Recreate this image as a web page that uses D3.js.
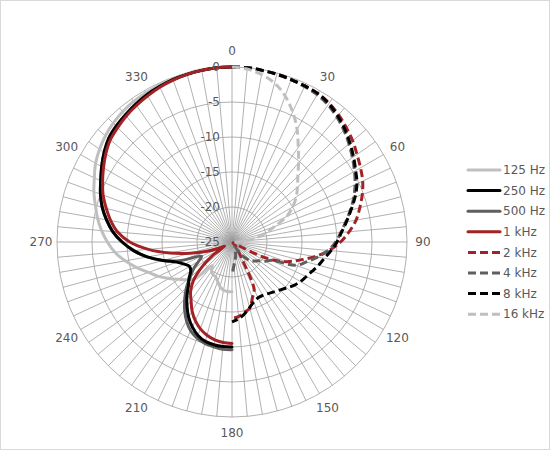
<!DOCTYPE html>
<html>
<head>
<meta charset="utf-8">
<script src="https://cdn.jsdelivr.net/npm/d3@7"></script>
<style>
  html,body{margin:0;padding:0;background:#fff;}
  text{font-family:"DejaVu Sans",sans-serif;}
</style>
</head>
<body>
<svg id="chart" width="550" height="450"></svg>
<script>
// ---------- DATA ----------
// angle categories (degrees, clockwise from top)
const rightAngles = [0,5,10,15,20,25,30,35,40,45,50,55,60,65,70,75,80,85,90,95,100,105,110,115,120,125,130,135,140,145,150,155,160,165,170,175,180];
const leftAngles  = [360,355,350,345,340,335,330,325,320,315,310,305,300,295,290,285,280,275,270,265,260,255,250,245,240,235,230,225,220,215,210,205,200,195,190,185,180];

const radialTicks = [-25,-20,-15,-10,-5,0];
const angleLabels = [0,30,60,90,120,150,180,210,240,270,300,330];

const seriesNames = ["125 Hz","250 Hz","500 Hz","1 kHz","2 kHz","4 kHz","8 kHz","16 kHz"];

// solid series: values along leftAngles (dB)
const hz125 = [0,0,0,-0.1,-0.2,-0.3,-0.4,-0.5,-0.7,-1.0,-1.4,-1.9,-2.5,-3.3,-4.0,-4.8,-5.5,-6.3,-7.2,-8.2,-9.5,-10.9,-12.3,-13.4,-14.6,-15.7,-16.6,-17.6,-20.6,-19.9,-19.6,-19.5,-19.0,-18.4,-18.0,-17.9,-17.9];
const hz250 = [0,0,-0.1,-0.2,-0.3,-0.5,-0.7,-1.0,-1.3,-1.6,-2.0,-2.7,-3.5,-4.3,-5.0,-5.8,-6.8,-7.9,-9.3,-10.9,-12.7,-14.8,-16.6,-17.5,-18.0,-17.8,-17.0,-16.2,-15.0,-13.8,-12.6,-11.6,-10.8,-10.3,-10.1,-10.0,-10.0];
const hz500 = [0,0,-0.1,-0.2,-0.3,-0.5,-0.7,-1.0,-1.3,-1.6,-2.0,-2.7,-3.5,-4.3,-5.0,-5.8,-6.8,-7.9,-9.3,-10.9,-12.7,-14.8,-17.3,-20.2,-19.5,-18.3,-17.2,-15.8,-14.5,-13.2,-12.0,-11.0,-10.4,-10.0,-9.8,-9.6,-9.6];
const khz1  = [0,0,-0.1,-0.2,-0.4,-0.6,-0.9,-1.2,-1.5,-1.9,-2.3,-3.0,-3.8,-4.6,-5.4,-6.4,-7.4,-8.6,-10.4,-13.0,-16.0,-18.8,-21.0,-22.8,-23.8,-21.5,-19.3,-17.2,-15.8,-14.8,-13.6,-12.6,-11.8,-11.2,-10.8,-10.6,-10.5];

// dashed series: values along rightAngles (dB)
const khz2  = [0,0,-0.1,-0.2,-0.3,-0.4,-0.5,-0.8,-1.3,-1.9,-2.5,-3.2,-3.8,-4.4,-5.2,-6.1,-7.0,-8.2,-9.5,-11.1,-13.0,-15.0,-16.8,-19.5,-24.3,-24.8,-24.8,-24.5,-24.0,-23.5,-22.0,-17.5,-16.5,-15.2,-14.8,-14.3,-14.1];
const khz4  = [0,0,-0.1,-0.2,-0.3,-0.5,-0.7,-1.1,-1.7,-2.4,-3.2,-4.0,-4.8,-5.6,-6.5,-7.5,-8.5,-9.4,-10.2,-11.2,-12.6,-14.0,-15.3,-18.8,-19.5,-20.3,-20.8,-21.2,-22.0,-23.2,-24.2,-24.0,-23.6,-23.0,-22.4,-21.7,-20.3];
const khz8  = [0,0,-0.1,-0.2,-0.3,-0.4,-0.5,-0.9,-1.5,-2.2,-3.0,-3.8,-4.6,-5.3,-6.3,-7.4,-8.4,-9.3,-10.0,-10.8,-11.6,-12.2,-12.8,-13.3,-13.7,-14.2,-14.8,-15.3,-15.7,-16.0,-16.2,-16.2,-15.9,-15.3,-14.6,-14.0,-13.6];
const khz16 = [0,-0.2,-0.7,-1.5,-2.8,-4.5,-6.4,-8.5,-10.2,-11.7,-12.8,-13.8,-15.0,-16.4,-18.5,-20.0,-21.5,-22.8,-24.0,-24.6,-24.8,-24.9,-24.9,-24.9,-24.9,-24.9,-24.9,-24.9,-24.9,-24.9,-24.9,-24.9,-24.9,-24.9,-24.9,-24.9,-24.9];

// ---------- STYLE ----------
const styles = {
  "125 Hz": {color:"#bfbfbf", dash:null},
  "250 Hz": {color:"#000000", dash:null},
  "500 Hz": {color:"#5f5f5f", dash:null},
  "1 kHz":  {color:"#a32226", dash:null},
  "2 kHz":  {color:"#a32226", dash:"8,4"},
  "4 kHz":  {color:"#5f5f5f", dash:"8,4"},
  "8 kHz":  {color:"#000000", dash:"8,4"},
  "16 kHz": {color:"#bfbfbf", dash:"8,4"}
};

const series = [
  {name:"125 Hz", angles:leftAngles,  values:hz125},
  {name:"250 Hz", angles:leftAngles,  values:hz250},
  {name:"500 Hz", angles:leftAngles,  values:hz500},
  {name:"1 kHz",  angles:leftAngles,  values:khz1},
  {name:"2 kHz",  angles:rightAngles, values:khz2},
  {name:"4 kHz",  angles:rightAngles, values:khz4},
  {name:"8 kHz",  angles:rightAngles, values:khz8},
  {name:"16 kHz", angles:rightAngles, values:khz16}
];
// drawing order (500 Hz under 250 Hz)
const drawOrder = ["125 Hz","500 Hz","250 Hz","1 kHz","2 kHz","4 kHz","8 kHz","16 kHz"];

// ---------- CHART ----------
const W = 550, H = 450;
const cx = 232, cy = 242, R = 175;
const svg = d3.select("#chart");

svg.append("rect").attr("x",0.5).attr("y",0.5).attr("width",W-1).attr("height",H-1)
  .attr("fill","#fff").attr("stroke","#d9d9d9").attr("stroke-width",1);

const r = d3.scaleLinear().domain([-25,0]).range([0,R]);
const ang = d3.scaleLinear().domain([0,360]).range([0,2*Math.PI]);

const g = svg.append("g").attr("transform",`translate(${cx},${cy})`);

// grid rings
const gridColor = "#9d9d9d";
g.selectAll("circle.ring").data(radialTicks.filter(t=>t>-25)).enter()
  .append("circle").attr("class","ring")
  .attr("r",d=>r(d)).attr("fill","none")
  .attr("stroke",gridColor).attr("stroke-width",0.8);

// spokes every 5 degrees
const spokes = d3.range(0,360,5);
g.selectAll("line.spoke").data(spokes).enter()
  .append("line").attr("class","spoke")
  .attr("x1",0).attr("y1",0)
  .attr("x2",d=>r(0)*Math.sin(ang(d)))
  .attr("y2",d=>-r(0)*Math.cos(ang(d)))
  .attr("stroke",gridColor).attr("stroke-width",0.8);

// series lines
const line = d3.lineRadial()
  .angle(d=>ang(d.a))
  .radius(d=>r(d.v))
  .curve(d3.curveCatmullRom.alpha(0.5));

drawOrder.forEach(name=>{
  const s = series.find(x=>x.name===name);
  const st = styles[name];
  const pts = s.angles.map((a,i)=>({a:a, v:s.values[i]}));
  g.append("path")
    .attr("d",line(pts))
    .attr("fill","none")
    .attr("stroke",st.color)
    .attr("stroke-width",3)
    .attr("stroke-linejoin","round")
    .attr("stroke-linecap",st.dash?"butt":"round")
    .attr("stroke-dasharray",st.dash);
});

// radial value labels
g.selectAll("text.rv").data(radialTicks).enter()
  .append("text").attr("class","rv")
  .attr("x",-12).attr("y",d=>-r(d))
  .attr("dy","0.35em")
  .attr("text-anchor","end")
  .attr("font-size",12).attr("fill","#595959")
  .text(d=>d);

// angle labels
const labR = R + 16;
g.selectAll("text.al").data(angleLabels).enter()
  .append("text").attr("class","al")
  .attr("x",d=>labR*Math.sin(ang(d)))
  .attr("y",d=>-labR*Math.cos(ang(d)))
  .attr("dy","0.35em")
  .attr("text-anchor","middle")
  .attr("font-size",12).attr("fill","#595959")
  .text(d=>d);

// legend
const lg = svg.append("g");
const ly0 = 170, lstep = 20.6;
seriesNames.forEach((name,i)=>{
  const st = styles[name];
  const y = ly0 + i*lstep;
  lg.append("line").attr("x1",468).attr("x2",500).attr("y1",y).attr("y2",y)
    .attr("stroke",st.color).attr("stroke-width",3)
    .attr("stroke-linecap",st.dash?"butt":"round")
    .attr("stroke-dasharray",st.dash);
  lg.append("text").attr("x",503).attr("y",y).attr("dy","0.35em")
    .attr("font-size",12).attr("fill","#595959").text(name);
});
</script>
</body>
</html>
